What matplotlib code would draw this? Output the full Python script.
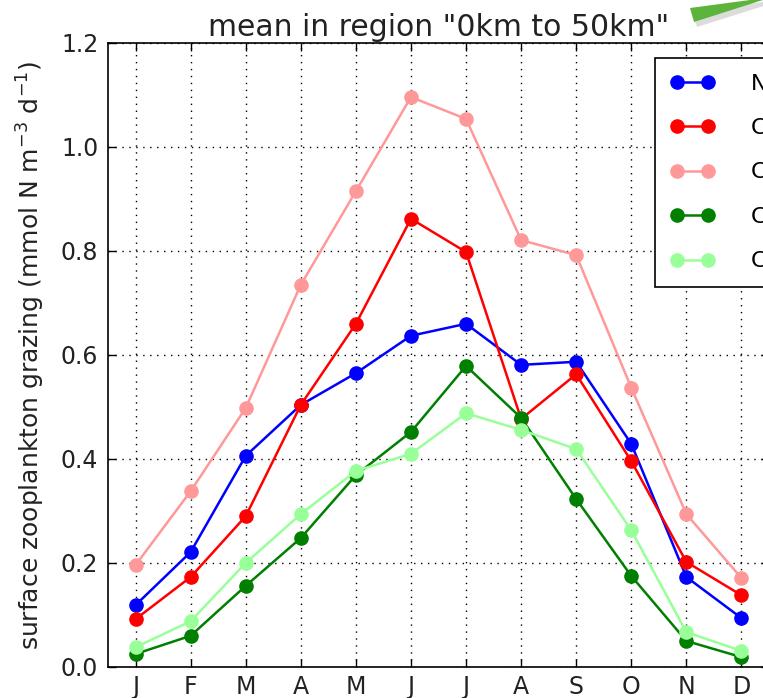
import matplotlib
matplotlib.use("Agg")
import matplotlib.pyplot as plt
from matplotlib.patches import Polygon

months = ["J", "F", "M", "A", "M", "J", "J", "A", "S", "O", "N", "D"]
month_idx = list(range(1, 13))

series_N = [0.119, 0.221, 0.406, 0.504, 0.565, 0.637, 0.660, 0.581, 0.587, 0.429, 0.173, 0.094]
series_C1 = [0.092, 0.173, 0.290, 0.504, 0.660, 0.862, 0.798, 0.477, 0.563, 0.396, 0.202, 0.138]
series_C2 = [0.196, 0.338, 0.498, 0.735, 0.915, 1.096, 1.054, 0.821, 0.792, 0.537, 0.294, 0.171]
series_C3 = [0.025, 0.060, 0.156, 0.248, 0.369, 0.452, 0.579, 0.479, 0.323, 0.175, 0.050, 0.019]
series_C4 = [0.038, 0.088, 0.200, 0.294, 0.377, 0.410, 0.488, 0.456, 0.419, 0.263, 0.067, 0.031]

labels = ["NEMO", "CTRL", "CLIM", "CO2", "CC"]
colors = ["#0000ff", "#ff0000", "#ff9999", "#007f00", "#99ff99"]
yticks = [0.0, 0.2, 0.4, 0.6, 0.8, 1.0, 1.2]

W, H = 763, 698
fig = plt.figure(figsize=(W / 100, H / 100), dpi=100)
ax = fig.add_axes([108 / W, (H - 667) / H, (769 - 108) / W, (667 - 43) / H])

for vals, lab, col in zip([series_N, series_C1, series_C2, series_C3, series_C4], labels, colors):
    ax.plot(month_idx, vals, "-o", color=col, mec=col, mfc=col, lw=1.8, ms=9.5, label=lab)

ax.set_xlim(0.5, 12.5)
ax.set_ylim(0, 1.2)
ax.set_xticks(month_idx)
ax.set_xticklabels(months)
ax.set_yticks(yticks)
ax.set_yticklabels([f"{v:.1f}" for v in yticks])
ax.tick_params(direction="in", top=True, right=True, length=6, width=1, labelsize=17, colors="black")
ax.tick_params(axis="both", labelcolor="#222222")
ax.tick_params(axis="x", pad=6)
ax.tick_params(axis="y", pad=7)
ax.grid(True, color="black", linestyle=(0, (1, 4)), linewidth=1)
for s in ax.spines.values():
    s.set_linewidth(1.2)

ax.set_title('mean in region "0km to 50km"', fontsize=21.5, color="#222222", pad=5)
ax.set_ylabel(r"surface zooplankton grazing (mmol N m$^{-3}$ d$^{-1}$)", fontsize=18, color="#222222", labelpad=10)

leg = ax.legend(loc="upper left", bbox_to_anchor=((655 - 108) / 661, (667 - 58) / 624),
                borderaxespad=0, numpoints=2, fontsize=16, handlelength=2.0,
                labelspacing=1.1, borderpad=0.7, handletextpad=1.6, fancybox=False,
                framealpha=1, edgecolor="black")
leg.get_frame().set_linewidth(1.2)

# green arrow decoration at top right
def fp(x, y):
    return (x / W, 1 - y / H)

shadow = Polygon([fp(692, 12), fp(697, 27), fp(770, 4), fp(770, 1)],
                 closed=True, transform=fig.transFigure, facecolor="#bbbbbb", edgecolor="none", alpha=0.5)
band = Polygon([fp(690, 8), fp(694, 22), fp(766, -1), fp(766, -3), fp(750, 0)],
               closed=True, transform=fig.transFigure, facecolor="#5db43c", edgecolor="none")
fig.add_artist(shadow)
fig.add_artist(band)

fig.savefig("out.png", dpi=100)
